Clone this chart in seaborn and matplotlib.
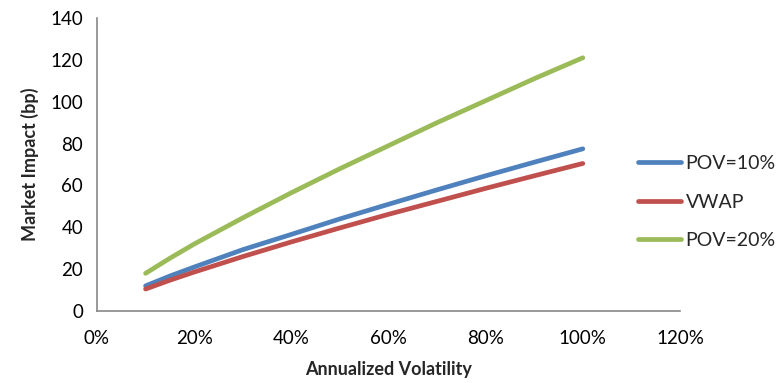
import numpy as np
import pandas as pd
import matplotlib
matplotlib.use("Agg")
import matplotlib.pyplot as plt
import seaborn as sns
from matplotlib.ticker import FuncFormatter, MultipleLocator

volatility = [0.10, 0.15, 0.20, 0.30, 0.40, 0.50, 0.60, 0.70, 0.80, 0.90, 1.00]
pov10 = [12.0, 16.7, 21.0, 29.3, 36.6, 44.0, 51.0, 57.9, 64.6, 71.1, 77.5]
vwap = [10.5, 14.7, 18.6, 26.0, 33.0, 39.7, 46.2, 52.4, 58.6, 64.6, 70.5]
pov20 = [18.0, 25.2, 32.0, 44.5, 56.5, 68.0, 79.0, 90.0, 100.5, 111.0, 121.0]
series_names = ["POV=10%", "VWAP", "POV=20%"]
colors = ["#4F81BD", "#C0504D", "#9BBB59"]

n = len(volatility)
df = pd.DataFrame({
    "vol": volatility * 3,
    "impact": pov10 + vwap + pov20,
    "series": [series_names[0]] * n + [series_names[1]] * n + [series_names[2]] * n,
})

sns.set_style("white")
plt.rcParams["font.family"] = ["Lato", "DejaVu Sans"]

fig = plt.figure(figsize=(7.79, 3.83), dpi=100)
ax = fig.add_axes([97 / 779, 1 - 311 / 383, (680 - 97) / 779, (311 - 18) / 383])

sns.lineplot(data=df, x="vol", y="impact", hue="series", hue_order=series_names,
             palette=colors, linewidth=3.4, ax=ax, legend=True,
             solid_capstyle="round")

ax.set_xlim(0, 1.2)
ax.set_ylim(0, 140)
ax.xaxis.set_major_locator(MultipleLocator(0.2))
ax.yaxis.set_major_locator(MultipleLocator(20))
ax.xaxis.set_major_formatter(FuncFormatter(lambda v, p: f"{v*100:.0f}%"))

for s in ["top", "right"]:
    ax.spines[s].set_visible(False)
for s in ["left", "bottom"]:
    ax.spines[s].set_color("#888888")
    ax.spines[s].set_linewidth(1.2)
ax.tick_params(axis="both", which="major", direction="out", length=5, width=1.2,
               color="#888888", labelsize=13.5, labelcolor="black")
ax.tick_params(axis="x", pad=9)
ax.tick_params(axis="y", pad=5)

ax.set_xlabel("Annualized Volatility", fontsize=13, fontweight="bold", labelpad=10)
ax.set_ylabel("Market Impact (bp)", fontsize=13, fontweight="bold", labelpad=8)

ax.get_legend().remove()
handles, labels = ax.get_legend_handles_labels()
leg = fig.legend(handles, labels, loc="center left",
                 bbox_to_anchor=(638 / 779, 1 - 202 / 383), frameon=False,
                 fontsize=14, handlelength=2.2, labelspacing=1.1, handletextpad=0.25,
                 borderaxespad=0, borderpad=0)
for line in leg.get_lines():
    line.set_linewidth(3.4)
    line.set_solid_capstyle("round")

fig.savefig("out.png", dpi=100)
